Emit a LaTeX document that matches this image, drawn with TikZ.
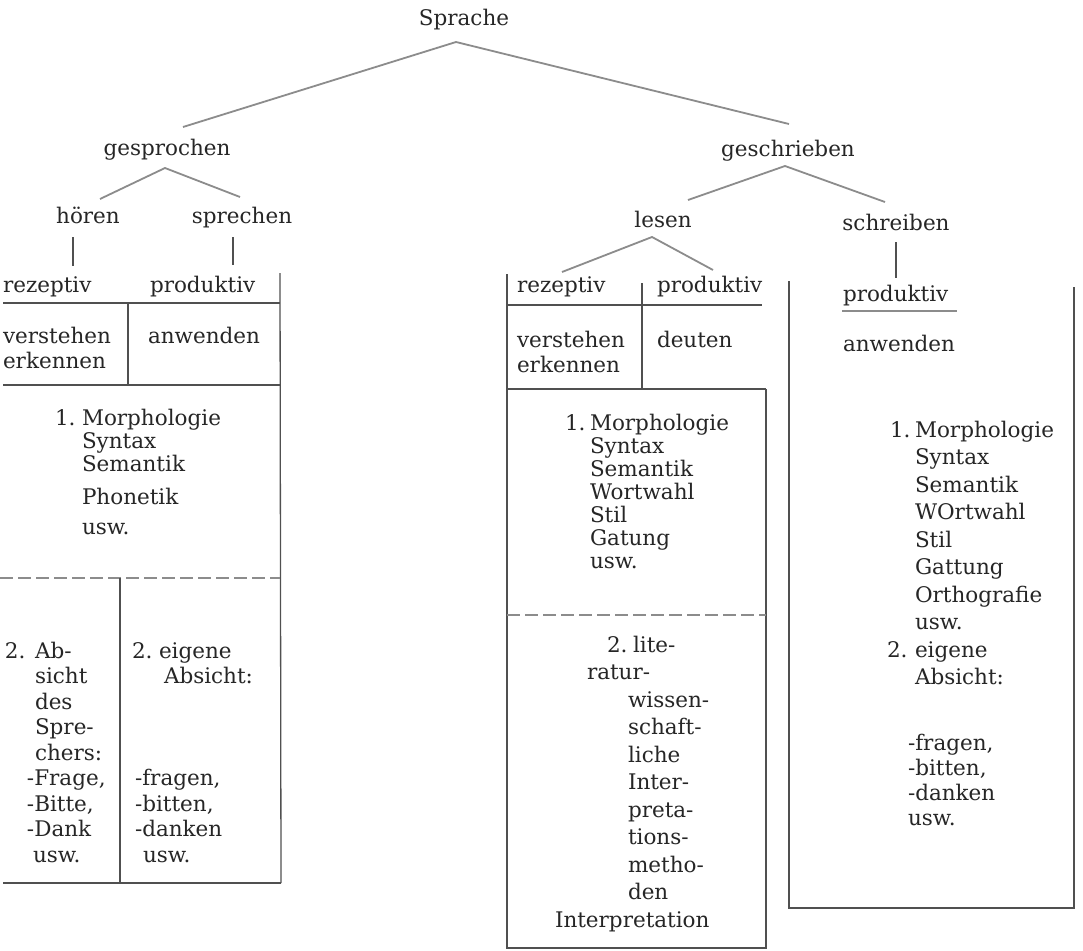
\documentclass[tikz,border=0pt]{standalone}
\usepackage{fontspec}
\setmainfont{DejaVu Serif}
\newcommand{\stk}[1]{\vtop{\halign{##\hfil\cr#1\crcr}}}
\definecolor{ink}{HTML}{262626}
\definecolor{treeline}{HTML}{8C8C8C}
\definecolor{boxline}{HTML}{505050}
\definecolor{dashline}{HTML}{8C8C8C}
\begin{document}
\begin{tikzpicture}[x=1pt,y=-1pt,
  lbl/.style={inner sep=0pt, outer sep=0pt, text=ink, font=\fontsize{21.5}{25}\selectfont},
  lw/.style={lbl, anchor=base west},
  lc/.style={lbl, anchor=base},
  sp/.style={font=\fontsize{21.5}{#1}\selectfont},
  tree/.style={draw=treeline, line width=1.8pt},
  boxrule/.style={draw=boxline, line width=1.3pt},
  tick/.style={draw=boxline, line width=1.2pt},
  dashrule/.style={draw=dashline, line width=1.6pt, dash pattern=on 13pt off 5pt},
  underl/.style={draw=treeline, line width=2.6pt},
]
\useasboundingbox (0,0) rectangle (1083,950);
\fill[white] (0,0) rectangle (1083,950);

% ---------- tree labels ----------
\node[lc] (sprache) at (464,26) {Sprache};
\node[lc] (gesprochen) at (167,155) {gesprochen};
\node[lc] (geschrieben) at (788,156) {geschrieben};
\node[lc] (hoeren) at (88,223) {hören};
\node[lc] (sprechen) at (242,223) {sprechen};
\node[lc] (lesen) at (663,227) {lesen};
\node[lc] (schreiben) at (896,230) {schreiben};

% ---------- tree connector points ----------
\coordinate (sA) at (456,42);
\coordinate (sL) at (183,127);
\coordinate (sR) at (789,124);
\coordinate (gA) at (165,168);
\coordinate (gL) at (100,199);
\coordinate (gR) at (240,197);
\coordinate (wA) at (785,166);
\coordinate (wL) at (688,200);
\coordinate (wR) at (885,202);
\coordinate (lA) at (652,237);
\coordinate (lL) at (562,272);
\coordinate (lR) at (713,270);
\coordinate (hT) at (73,237);
\coordinate (hB) at (73,266);
\coordinate (spT) at (233,237);
\coordinate (spB) at (233,265);
\coordinate (scT) at (896,242);
\coordinate (scB) at (896,278);

\draw[tree] (sL) -- (sA) -- (sR);
\draw[tree] (gL) -- (gA) -- (gR);
\draw[tree] (wL) -- (wA) -- (wR);
\draw[tree] (lL) -- (lA) -- (lR);
\draw[tick] (hT) -- (hB);
\draw[tick] (spT) -- (spB);
\draw[tick] (scT) -- (scB);

% ---------- left block ----------
\draw[boxrule] (280,273) -- (281,883);
\draw[boxrule] (3,303) -- (280,303);
\draw[boxrule] (128,303) -- (128,385);
\draw[boxrule] (3,385) -- (280,385);
\draw[dashrule] (0,578) -- (280,578);
\draw[boxrule] (120,578) -- (120,883);
\draw[boxrule] (3,883) -- (281,883);

\node[lw] (lrez) at (3,292) {rezeptiv};
\node[lw] (lprod) at (150,292) {produktiv};
\node[lw,sp=25] (lverst) at (3,343) {\stk{verstehen\cr erkennen}};
\node[lw] (lanw) at (148,343) {anwenden};
\node[lw] (lnum1) at (55,425) {1.};
\node[lw,sp=23] (llist) at (82,425) {\stk{Morphologie\cr Syntax\cr Semantik\cr\noalign{\vskip10pt}Phonetik\cr\noalign{\vskip7pt}usw.}};
\node[lw] (lnum2) at (5,658) {2.};
\node[lw,sp=25.5] (labs) at (35,658) {\stk{Ab-\cr sicht\cr des\cr Spre-\cr chers:}};
\node[lw,sp=25.5] (lfrage) at (27,785.5) {\stk{-Frage,\cr -Bitte,\cr -Dank}};
\node[lw] (lusw) at (33,862) {usw.};
\node[lw] (lnum2b) at (132,658) {2.};
\node[lw] (leig) at (159,658) {eigene};
\node[lw] (labsicht) at (164,683.5) {Absicht:};
\node[lw,sp=25.5] (lfragen) at (135,785.5) {\stk{-fragen,\cr -bitten,\cr -danken}};
\node[lw] (lusw2) at (143,862) {usw.};

% ---------- middle block ----------
\draw[boxrule] (507,274) -- (507,948) -- (766,948) -- (766,389);
\draw[boxrule] (642,283) -- (642,389);
\draw[boxrule] (507,305) -- (762,305);
\draw[boxrule] (507,389) -- (766,389);
\draw[dashrule] (507,615) -- (766,615);

\node[lw] (mrez) at (517,292) {rezeptiv};
\node[lw] (mprod) at (657,292) {produktiv};
\node[lw,sp=25] (mverst) at (517,347) {\stk{verstehen\cr erkennen}};
\node[lw] (mdeut) at (657,347) {deuten};
\node[lw] (mnum1) at (565,430) {1.};
\node[lw,sp=23] (mlist) at (590,430) {\stk{Morphologie\cr Syntax\cr Semantik\cr Wortwahl\cr Stil\cr Gatung\cr usw.}};
\node[lw] (mnum2) at (607,652) {2.};
\node[lw] (mlite) at (633,652) {lite-};
\node[lw] (mratur) at (587,679.5) {ratur-};
\node[lw,sp=27.5] (mwiss) at (628,707) {\stk{wissen-\cr schaft-\cr liche\cr Inter-\cr preta-\cr tions-\cr metho-\cr den}};
\node[lw] (minterp) at (555,927) {Interpretation};

% ---------- right block ----------
\draw[boxrule] (789,281) -- (789,908) -- (1074,908) -- (1074,287);
\draw[underl] (842,311) -- (957,311);

\node[lw] (rprod) at (843,301.5) {produktiv};
\node[lw] (ranw) at (843,351) {anwenden};
\node[lw] (rnum1) at (890,437) {1.};
\node[lw,sp=27.5] (rlist) at (915,437) {\stk{Morphologie\cr Syntax\cr Semantik\cr WOrtwahl\cr Stil\cr Gattung\cr Orthografie\cr usw.\cr eigene\cr Absicht:}};
\node[lw] (rnum2) at (887,657) {2.};
\node[lw,sp=25] (rfragen) at (908,750) {\stk{-fragen,\cr -bitten,\cr -danken\cr usw.}};
\end{tikzpicture}
\end{document}
